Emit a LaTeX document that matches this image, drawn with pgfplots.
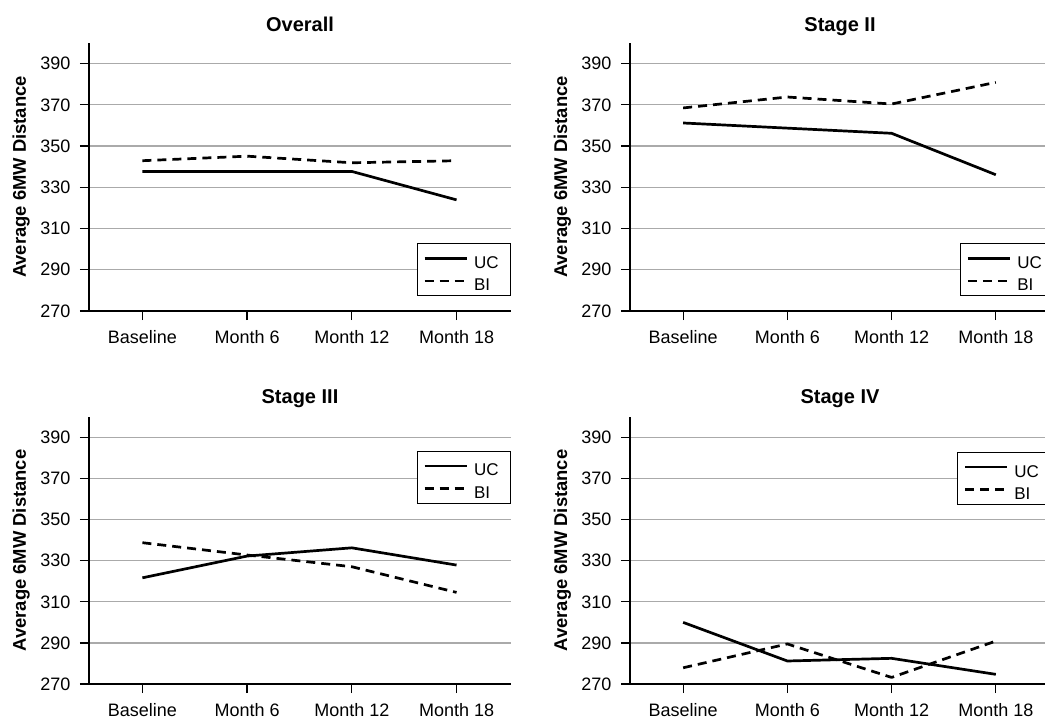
\documentclass[border=0pt]{standalone}
\usepackage{pgfplots}
\pgfplotsset{compat=1.18}
\usepackage{fontspec}
\setmainfont{Liberation Sans}
\definecolor{gridgray}{RGB}{170,170,170}
\pgfplotsset{
  panel/.style={
    scale only axis, width=422pt, height=268pt,
    xmin=-0.51, xmax=3.52, ymin=270, ymax=400,
    axis x line=bottom, axis y line=left,
    axis line style={-, line width=1.5pt, black},
    xtick={0,1,2,3}, xticklabels={Baseline,Month 6,Month 12,Month 18},
    ytick={270,290,...,390},
    tick align=outside, major tick length=9pt,
    tick style={black, line width=1.3pt},
    ymajorgrids, major grid style={gridgray, line width=1.2pt},
    /pgf/number format/assume math mode=true,
    yticklabel style={font=\fontsize{18}{18}\selectfont, xshift=-6pt},
    xticklabel style={font=\fontsize{18}{18}\selectfont, yshift=-7pt},
    title style={font=\bfseries\fontsize{20}{20}\selectfont, at={(axis description cs:0.5,1)}, anchor=base, yshift=5.5pt},
    ylabel={Average 6MW Distance},
    ylabel style={font=\bfseries\fontsize{18.4}{18.4}\selectfont, at={([xshift=-63pt]axis description cs:0,0.5)}, rotate=0, anchor=base},
    legend cell align=left,
    legend image code/.code={\draw[##1] (0pt,0pt) -- (42pt,0pt);},
    legend style={draw=black, line width=1pt, font=\fontsize{17}{17}\selectfont,
      inner xsep=6pt, inner ysep=3.3pt, row sep=0pt,
      nodes={text height=20pt, text depth=0pt, inner ysep=1.25pt, inner xsep=6pt}},
    uc/.style={black, line width=2.7pt, line join=round, no markers, solid},
    bi/.style={black, line width=2.7pt, line join=round, no markers, dash pattern=on 9pt off 6pt},
  }
}
\begin{document}
\begin{tikzpicture}
\path[use as bounding box, clip] (0pt,0pt) rectangle (1045pt,-719pt);
% Overall
\begin{axis}[panel, at={(89pt,-311pt)}, anchor=south west, title={Overall},
  legend style={at={(0.777,0.056)}, anchor=south west}]
\addplot[uc] coordinates {(0,337.7) (1,337.7) (2,337.7) (3,323.9)};
\addplot[bi] coordinates {(0,342.9) (1,345.1) (2,341.9) (3,342.9)};
\legend{UC,BI}
\end{axis}
% Stage II
\begin{axis}[panel, width=420pt, at={(630pt,-311pt)}, anchor=south west, title={Stage II},
  legend style={at={(0.786,0.056)}, anchor=south west}]
\addplot[uc] coordinates {(0,361.2) (1,358.7) (2,356.2) (3,336.1)};
\addplot[bi] coordinates {(0,368.5) (1,373.8) (2,370.4) (3,380.9)};
\legend{UC,BI}
\end{axis}
% Stage III
\begin{axis}[panel, height=267pt, at={(89pt,-684pt)}, anchor=south west, title={Stage III},
  title style={yshift=2.5pt},
  legend style={at={(0.777,0.873)}, anchor=north west}]
\addplot[uc] coordinates {(0,321.7) (1,332.3) (2,336.3) (3,327.9)};
\addplot[bi] coordinates {(0,338.8) (1,332.8) (2,327.1) (3,314.6)};
\legend{UC,BI}
\end{axis}
% Stage IV
\begin{axis}[panel, width=420pt, height=267pt, at={(630pt,-684pt)}, anchor=south west, title={Stage IV},
  title style={yshift=2.5pt},
  legend style={at={(0.779,0.869)}, anchor=north west}]
\addplot[uc] coordinates {(0,300.0) (1,281.2) (2,282.5) (3,274.7)};
\addplot[bi] coordinates {(0,277.9) (1,289.5) (2,273.2) (3,290.9)};
\legend{UC,BI}
\end{axis}
\end{tikzpicture}
\end{document}
